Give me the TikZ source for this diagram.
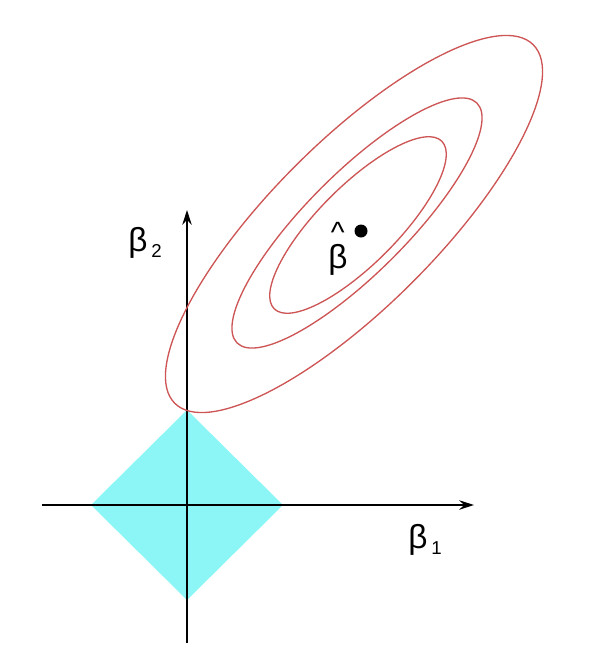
\documentclass[tikz,border=0pt]{standalone}
\usepackage{fontspec}
\setmainfont{Liberation Sans}
\usetikzlibrary{arrows.meta}
\definecolor{contourred}{RGB}{205,85,85}
\definecolor{lassocyan}{RGB}{140,246,246}
\newcommand{\betaidx}[1]{β\kern3pt\raisebox{-5pt}{\fontsize{14}{14}\selectfont #1}}
\newcommand{\betahat}{\rlap{\kern2pt\raisebox{19pt}{\fontsize{22}{22}\selectfont\textasciicircum}}β}
\begin{document}
\begin{tikzpicture}[x=0.75pt,y=0.75pt,yscale=-1,xscale=1,
    axis/.style={line width=1.5pt,-{Stealth[length=11pt,width=7pt]}},
    contour/.style={draw=contourred,line width=1pt},
    lbl/.style={inner sep=0pt,font=\fontsize{25}{25}\selectfont}]
    \useasboundingbox (0,0) rectangle (602,657);
    % Diamond (constraint region)
    \fill[lassocyan] (91,505) -- (187,410) -- (283,505) -- (187,600) -- cycle;
    % Axes
    \coordinate (xtail) at (42,505);
    \coordinate (xhead) at (474,505);
    \coordinate (ytail) at (187,643);
    \coordinate (yhead) at (187,210);
    \draw[axis] (xtail) -- (xhead);
    \draw[axis] (ytail) -- (yhead);
    % Contour ellipses
    \draw[contour,rotate around={-45:(358,225)}] (358,225) ellipse (118.5 and 39.2);
    \draw[contour,rotate around={-45:(357,223)}] (357,223) ellipse (169.6 and 50);
    \draw[contour,rotate around={-45:(354,224)}] (354,224) ellipse (253.5 and 82.5);
    % Estimate
    \coordinate (bhat) at (361,231);
    \fill (bhat) circle (6.5);
    % Text Node
    \node[lbl,anchor=base west] (b1) at (408,548) {\betaidx{1}};
    % Text Node
    \node[lbl,anchor=base west] (b2) at (128,251) {\betaidx{2}};
    % Text Node
    \node[lbl,anchor=base west] (bhatlabel) at (328,268) {\betahat};
\end{tikzpicture}
\end{document}
